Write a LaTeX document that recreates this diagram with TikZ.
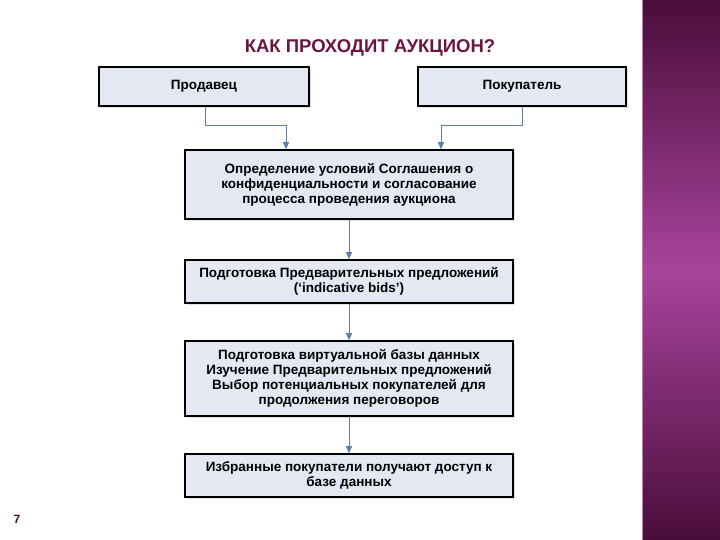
\documentclass[tikz,border=0pt]{standalone}
\usepackage{fontspec}
\setmainfont{Liberation Sans}
\usetikzlibrary{arrows.meta,shadows}
\definecolor{boxfill}{HTML}{E4E8F3}
\definecolor{conn}{HTML}{5A7FA8}
\definecolor{titlec}{HTML}{6E1443}
\definecolor{pdark}{HTML}{4A0D3A}
\definecolor{pmid}{HTML}{A8449C}
\tikzset{
  box/.style={draw=black, line width=1.6pt, fill=boxfill, align=center,
    font=\bfseries\fontsize{13.5}{15}\selectfont, inner sep=0pt,
    drop shadow={shadow xshift=2pt, shadow yshift=-2pt, fill=black!12, opacity=1}},
  conn/.style={draw=conn, line width=0.8pt},
  arr/.style={conn, -{Triangle[length=7pt,width=6pt]}}
}
\begin{document}
\begin{tikzpicture}[x=1pt,y=-1pt]
\useasboundingbox (0,0) rectangle (720,540);
\fill[white] (0,0) rectangle (720,540);
% right decorative panel
\shade[top color=pdark, bottom color=pmid] (642,0) rectangle (720,270);
\shade[top color=pmid, bottom color=pdark] (642,270) rectangle (720,540);
\draw[pmid!70!white, line width=1pt] (642.5,0) -- (642.5,540);
% title
\node (title) at (370,48) {\color{titlec}\bfseries\fontsize{18.5}{20}\selectfont КАК ПРОХОДИТ АУКЦИОН?};
% page number
\node (pnum) at (17,519) {\color{titlec!60!black}\bfseries\fontsize{12}{14}\selectfont 7};
% boxes
\node[box, minimum width=210pt, minimum height=39pt] (seller) at (204,86.5) {Продавец};
\node[box, minimum width=208pt, minimum height=39pt] (buyer) at (522,86.5) {Покупатель};
\node[box, minimum width=328pt, minimum height=69pt] (b1) at (349,184.5)
  {Определение условий Соглашения о\\конфиденциальности и согласование\\процесса проведения аукциона};
\node[box, minimum width=328pt, minimum height=43pt] (b2) at (349,281.5)
  {Подготовка Предварительных предложений\\(‘indicative bids’)};
\node[box, minimum width=328pt, minimum height=75pt] (b3) at (349,378.5)
  {Подготовка виртуальной базы данных\\Изучение Предварительных предложений\\Выбор потенциальных покупателей для\\продолжения переговоров};
\node[box, minimum width=328pt, minimum height=43pt] (b4) at (349,475.5)
  {Избранные покупатели получают доступ к\\базе данных};
% connectors
\coordinate (s1) at (205,125);
\coordinate (s2) at (286,125);
\coordinate (p1) at (522,125);
\coordinate (p2) at (441,125);
\draw[conn] (seller.south -| s1) -- (s1) -- (s2);
\draw[arr] (s2) -- (s2 |- b1.north);
\draw[conn] (buyer.south -| p1) -- (p1) -- (p2);
\draw[arr] (p2) -- (p2 |- b1.north);
\draw[arr] (b1) -- (b2);
\draw[arr] (b2) -- (b3);
\draw[arr] (b3) -- (b4);
\end{tikzpicture}
\end{document}
